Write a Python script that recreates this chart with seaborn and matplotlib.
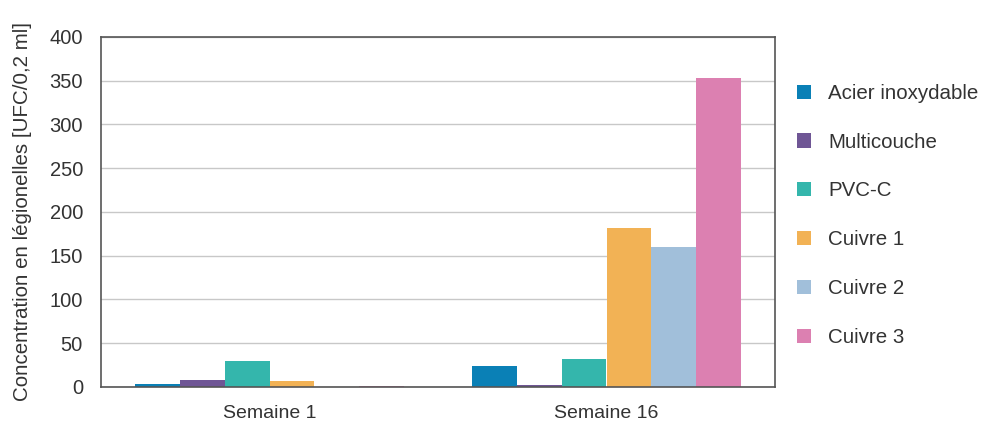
import matplotlib
matplotlib.use("Agg")
import matplotlib.pyplot as plt
import seaborn as sns
import pandas as pd
from matplotlib.patches import Patch

weeks = ["Semaine 1", "Semaine 16"]
materials = ["Acier inoxydable", "Multicouche", "PVC-C", "Cuivre 1", "Cuivre 2", "Cuivre 3"]
week1 = [3, 8, 29.5, 7, 0.5, 1.5]
week16 = [24, 2, 32, 182, 160, 353]
colors = ["#0a80b6", "#6f5695", "#34b6ac", "#f2b255", "#a1bfda", "#dc80b1"]

rows = []
for m, v in zip(materials, week1):
    rows.append({"Semaine": weeks[0], "Matériau": m, "Valeur": v})
for m, v in zip(materials, week16):
    rows.append({"Semaine": weeks[1], "Matériau": m, "Valeur": v})
df = pd.DataFrame(rows)

sns.set_theme(style="white")
plt.rcParams["font.family"] = ["Liberation Sans", "DejaVu Sans"]

fig = plt.figure(figsize=(10, 4.3), dpi=100)
ax = fig.add_axes([0.101, 0.1, 0.674, 0.814])

sns.barplot(data=df, x="Semaine", y="Valeur", hue="Matériau", hue_order=materials,
            order=weeks, palette=colors, width=0.8, saturation=1, ax=ax,
            legend=False, linewidth=0, errorbar=None)

ax.set_xlim(-0.5, 1.5)
ax.set_ylim(0, 400)
ax.set_yticks(range(0, 401, 50))
ax.yaxis.grid(True, color="#c8c8c8", linewidth=1)
ax.set_axisbelow(True)
ax.set_xlabel("")
ax.set_ylabel("Concentration en légionelles [UFC/0,2 ml]", fontsize=14.8, color="#333333")
ax.yaxis.set_label_coords(-0.103, 0.5)
ax.tick_params(axis="y", labelsize=14.5, colors="#333333", length=0, pad=13)
ax.tick_params(axis="x", labelsize=14, colors="#333333", length=0, pad=13)
for s in ["top", "right", "left", "bottom"]:
    ax.spines[s].set_color("#555555")
    ax.spines[s].set_linewidth(1.2)

handles = [Patch(facecolor=c, edgecolor="none") for c in colors]
fig.legend(handles, materials, loc="upper left", bbox_to_anchor=(0.797, 0.805),
           frameon=False, fontsize=14.8, labelcolor="#333333", borderpad=0, borderaxespad=0,
           handlelength=0.68, handleheight=0.68, handletextpad=0.83, labelspacing=1.45)

fig.savefig("out.png", dpi=100)
